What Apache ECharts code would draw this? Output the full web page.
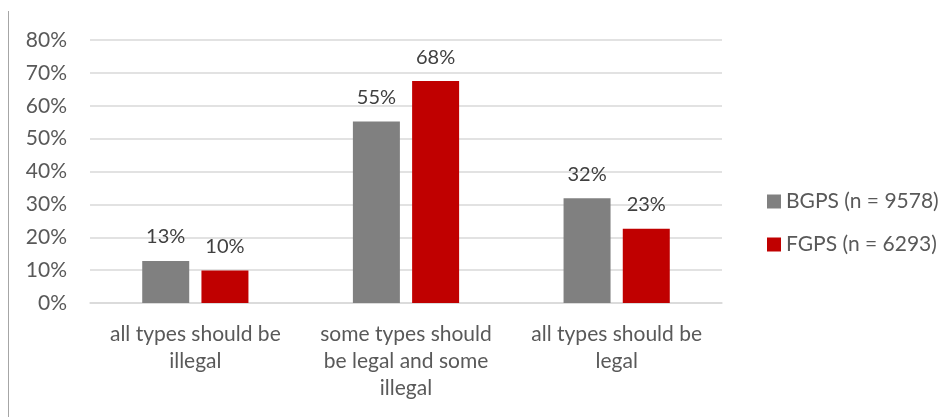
<!DOCTYPE html>
<html>
<head>
<meta charset="utf-8">
<script src="https://cdn.jsdelivr.net/npm/echarts@6/dist/echarts.min.js"></script>
<style>
html, body { margin: 0; padding: 0; background: #fff; }
#main { width: 939px; height: 417px; }
</style>
</head>
<body>
<div id="main"></div>
<script>
// categories and values
var categories = ['all types should be\nillegal', 'some types should\nbe legal and some\nillegal', 'all types should be\nlegal'];
var bgps = [12.8, 55.2, 31.9];
var fgps = [9.9, 67.5, 22.6];
var seriesNames = ['BGPS (n = 9578)', 'FGPS (n = 6293)'];
var yTicks = [0, 10, 20, 30, 40, 50, 60, 70, 80];

var font = 'Lato';
var chart = echarts.init(document.getElementById('main'));

var labelCfg = {
    show: true,
    position: 'top',
    distance: 14,
    color: '#404040',
    fontSize: 20,
    fontFamily: font,
    formatter: function (p) { return Math.round(p.value) + '%'; }
};

var option = {
    animation: false,
    backgroundColor: '#fff',
    graphic: [{
        type: 'line',
        shape: { x1: 8.5, y1: 11, x2: 8.5, y2: 417 },
        style: { stroke: '#a6a6a6', lineWidth: 1 }
    }],
    grid: { left: 90, right: 217, top: 40, bottom: 114 },
    legend: {
        orient: 'vertical',
        left: 762,
        top: 186,
        itemWidth: 14,
        itemHeight: 14,
        itemGap: 22,
        icon: 'rect',
        textStyle: { color: '#595959', fontSize: 21, fontFamily: font },
        data: seriesNames
    },
    xAxis: {
        type: 'category',
        data: categories,
        axisLine: { show: true, lineStyle: { color: '#d9d9d9', width: 1.5 } },
        axisTick: { show: false },
        axisLabel: {
            color: '#595959',
            fontSize: 21,
            fontFamily: font,
            lineHeight: 27,
            margin: 18,
            interval: 0
        }
    },
    yAxis: {
        type: 'value',
        min: yTicks[0],
        max: yTicks[yTicks.length - 1],
        interval: 10,
        axisLine: { show: false },
        axisTick: { show: false },
        splitLine: { lineStyle: { color: '#d9d9d9', width: 1.5 } },
        axisLabel: {
            color: '#595959',
            fontSize: 21,
            fontFamily: font,
            margin: 23,
            formatter: '{value}%'
        }
    },
    series: [{
        name: seriesNames[0],
        type: 'bar',
        data: bgps,
        barWidth: 47,
        barGap: '26%',
        itemStyle: { color: '#808080' },
        label: labelCfg
    }, {
        name: seriesNames[1],
        type: 'bar',
        data: fgps,
        barWidth: 47,
        barGap: '26%',
        itemStyle: { color: '#c00000' },
        label: labelCfg
    }]
};

chart.setOption(option);
</script>
</body>
</html>
